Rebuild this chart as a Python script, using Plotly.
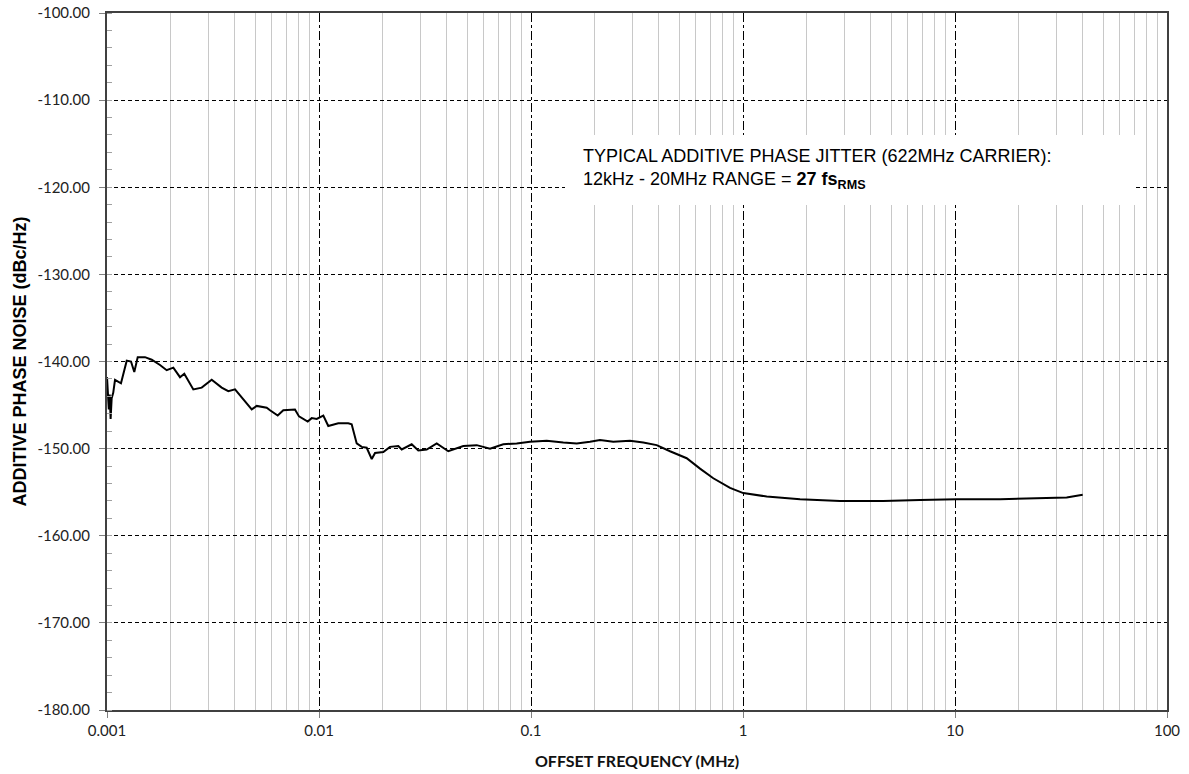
import plotly.graph_objects as go

# Offset frequency (MHz) and additive phase noise (dBc/Hz)
freq_mhz = [
    0.001, 0.00102, 0.00103, 0.00104, 0.001052, 0.00107, 0.001091, 0.001164, 0.001239,
    0.001298, 0.001345, 0.001396, 0.001511, 0.001625, 0.001778, 0.001912,
    0.002055, 0.00221, 0.002315, 0.002554, 0.002797, 0.003118, 0.003475,
    0.003734, 0.004017, 0.004395, 0.004815, 0.005084, 0.005667, 0.005874,
    0.006387, 0.006786, 0.007704, 0.008047, 0.008845, 0.009239, 0.009754,
    0.01048, 0.01106, 0.01233, 0.01374, 0.01426, 0.01506, 0.0159, 0.01679,
    0.01773, 0.01838, 0.02011, 0.02162, 0.02367, 0.02455, 0.02737, 0.0294,
    0.03221, 0.03591, 0.04073, 0.04794, 0.05545, 0.06407, 0.07401, 0.0856,
    0.09892, 0.1186, 0.142, 0.1643, 0.1898, 0.2116, 0.2444, 0.2931, 0.3386,
    0.3916, 0.4526, 0.5425, 0.627, 0.7243, 0.8685, 1.003, 1.294, 1.858,
    2.868, 4.59, 6.838, 10.19, 16.31, 28.06, 33.64, 40.03,
]
noise_dbc = [
    -141.8, -145.5, -143.8, -146.6, -144.2, -143.6, -142.1, -142.5, -139.9,
    -140.0, -141.2, -139.5, -139.5, -139.8, -140.4, -141.0,
    -140.7, -141.8, -141.4, -143.2, -143.0, -142.1, -143.0,
    -143.4, -143.2, -144.4, -145.5, -145.1, -145.3, -145.6,
    -146.2, -145.6, -145.5, -146.3, -146.9, -146.5, -146.6,
    -146.2, -147.4, -147.1, -147.1, -147.2, -149.4, -149.8, -149.9,
    -151.2, -150.5, -150.4, -149.8, -149.7, -150.1, -149.5, -150.2,
    -150.1, -149.4, -150.3, -149.7, -149.6, -150.0, -149.5, -149.4,
    -149.2, -149.1, -149.3, -149.4, -149.2, -149.0, -149.2, -149.1, -149.3,
    -149.6, -150.3, -151.1, -152.3, -153.4, -154.5, -155.1, -155.5, -155.8,
    -156.0, -156.0, -155.9, -155.8, -155.8, -155.7, -155.6, -155.3,
]

x_tick_vals = [0.001, 0.01, 0.1, 1, 10, 100]
x_tick_text = ["0.001", "0.01", "0.1", "1", "10", "100"]
x_minor_vals = [m * 10.0 ** e for e in range(-3, 2) for m in range(2, 10)]
y_tick_vals = [-180, -170, -160, -150, -140, -130, -120, -110, -100]
y_tick_text = ["-180.00", "-170.00", "-160.00", "-150.00", "-140.00",
               "-130.00", "-120.00", "-110.00", "-100.00"]

fig = go.Figure()
fig.add_trace(go.Scatter(
    x=freq_mhz, y=noise_dbc, mode="lines",
    line=dict(color="black", width=2), showlegend=False,
))

tick_font = dict(family="Lato, Liberation Sans, sans-serif", size=15, color="#222")

fig.update_xaxes(
    type="log", range=[-3, 2], automargin=False,
    tickmode="array", tickvals=x_tick_vals, ticktext=x_tick_text,
    ticks="outside", ticklen=6, tickcolor="#808080",
    ticklabeloverflow="allow",
    showgrid=True, gridcolor="black", gridwidth=1, griddash="dashdot",
    minor=dict(tickmode="array", tickvals=x_minor_vals, showgrid=True,
               gridcolor="#c8c8c8", gridwidth=1, griddash="solid", ticks=""),
    showline=True, linecolor="#404040", linewidth=2, mirror=True,
    tickfont=tick_font,
    title=dict(text="<b>OFFSET FREQUENCY (MHz)</b>",
               font=dict(family="Lato, sans-serif", size=16, color="#111"), standoff=18),
    zeroline=False,
)
fig.update_yaxes(
    range=[-180, -100], automargin=False,
    tickmode="array", tickvals=y_tick_vals, ticktext=y_tick_text,
    ticks="outside", ticklen=6, tickcolor="#808080", ticklabelstandoff=6,
    ticklabeloverflow="allow",
    showgrid=True, gridcolor="black", gridwidth=1, griddash="4px,3px",
    minor=dict(dtick=2, ticks="inside", ticklen=5, tickcolor="#a0a0a0", showgrid=False),
    showline=True, linecolor="#404040", linewidth=2, mirror=True,
    tickfont=tick_font,
    title=dict(text="<b>ADDITIVE PHASE NOISE (dBc/Hz)</b>",
               font=dict(family="Liberation Sans, Arial, sans-serif", size=18, color="black"),
               standoff=6),
    zeroline=False,
)

# white box behind the annotation text
fig.add_shape(type="rect", xref="paper", yref="paper",
              x0=(565 - 107) / 1060, x1=(1135 - 107) / 1060,
              y0=(710 - 205) / 697, y1=(710 - 135) / 697,
              fillcolor="white", line=dict(width=0), layer="above")
fig.add_annotation(
    xref="paper", yref="paper",
    x=(581 - 107) / 1060, y=(710 - 144) / 697,
    xanchor="left", yanchor="top", align="left", showarrow=False,
    text="TYPICAL ADDITIVE PHASE JITTER (622MHz CARRIER):<br>"
         "12kHz - 20MHz RANGE = <b>27 fs<sub>RMS</sub></b>",
    font=dict(family="Liberation Sans, Arial, sans-serif", size=18, color="black"),
)

fig.update_layout(
    width=1189, height=774,
    margin=dict(l=107, r=22, t=13, b=64),
    plot_bgcolor="white", paper_bgcolor="white",
)

# remove the default page margin so the figure fills the window exactly
fig.write_html(
    "out.html",
    config={"displayModeBar": False},
    post_script="document.body.style.margin='0';document.body.style.overflow='hidden';",
)
